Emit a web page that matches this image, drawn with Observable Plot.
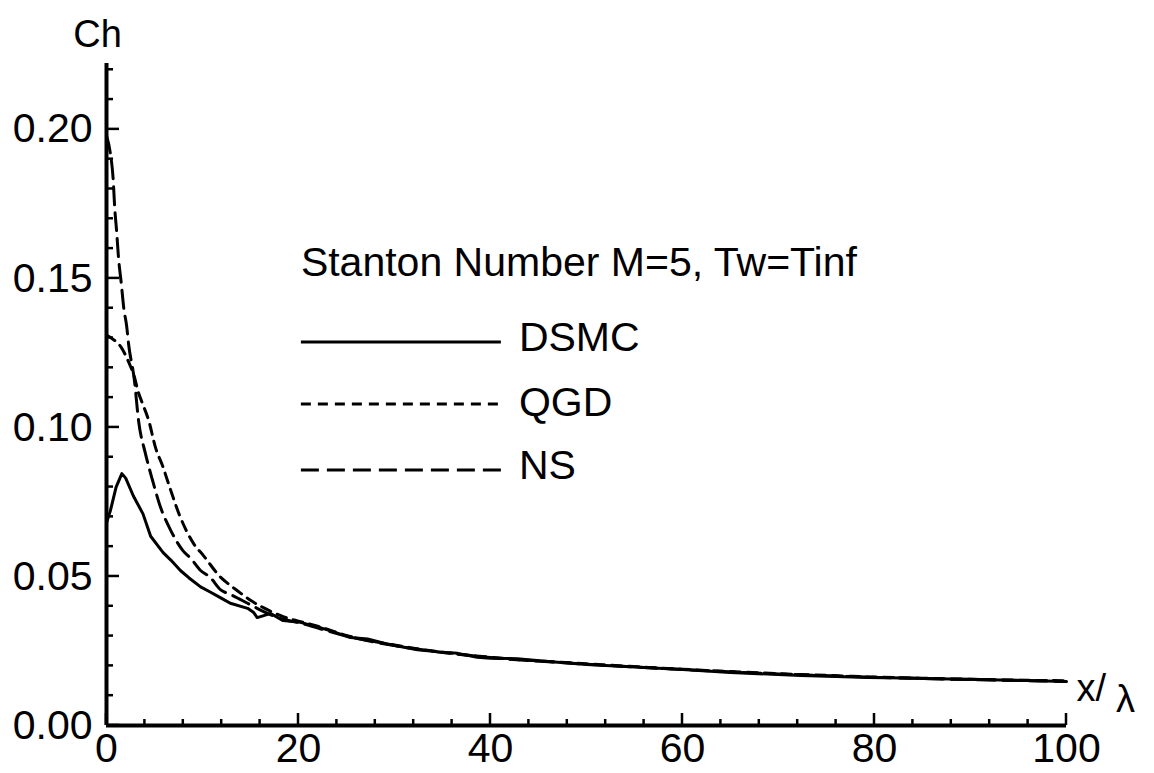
<!DOCTYPE html>
<html><head><meta charset="utf-8">
<script src="https://cdn.jsdelivr.net/npm/d3@7"></script>
<script src="https://cdn.jsdelivr.net/npm/@observablehq/plot@0.6"></script>
<style>
html,body{margin:0;padding:0;background:#fff;}
#chart{width:1154px;height:773px;}
</style></head><body><div id="chart"></div>
<script>
// ---- data ----
const dsmcX = [0,0.4,1.0,1.6,2.0,2.8,3.8,4.6,5.9,6.7,7.7,8.6,9.8,10.8,11.9,12.9,14.7,15.3,15.7,16.3,17.1,18.4,20.2,22,23.6,25.4,27.2,28.9,30.3,32.4,34.5,36.6,38.6,40,42.8,46,50,55,60,65,70,72.3,76,79.3,83,86.1,90,93,96,99.7];
const dsmcY = [0.068,0.072,0.080,0.0845,0.083,0.077,0.071,0.0635,0.058,0.0555,0.052,0.0495,0.0465,0.0448,0.0428,0.041,0.0393,0.038,0.0362,0.0368,0.0376,0.0352,0.0346,0.0331,0.0315,0.0295,0.029,0.0276,0.0267,0.0254,0.0247,0.0242,0.0229,0.0226,0.0224,0.0215,0.0205,0.0196,0.0188,0.0178,0.0171,0.0168,0.0164,0.0161,0.0159,0.0157,0.0155,0.0153,0.0151,0.0148];

const qgdX = [0,0.5,1.5,2.3,2.9,3.3,3.75,4.4,5.1,5.9,6.35,7.7,9.06,10.1,11.9,12.9,13.6,15,16.8,18.4,20,22,25,30,35,40,50,60,70,80,90,100];
const qgdY = [0.131,0.130,0.127,0.122,0.117,0.112,0.108,0.1023,0.0933,0.0866,0.0822,0.0698,0.0611,0.057,0.0497,0.047,0.0453,0.042,0.0388,0.0365,0.035,0.0333,0.0302,0.027,0.0246,0.0229,0.0207,0.0189,0.0174,0.0163,0.0155,0.015];

const nsX = [0,0.4,0.7,0.85,1.05,1.25,1.55,1.8,2.1,2.3,2.9,3.35,4.05,4.8,5.6,6.7,8.0,8.8,9.8,10.8,11.9,12.9,14.7,16,18,20,25,30,35,40,50,60,70,80,90,100];
const nsY = [0.198,0.192,0.183,0.174,0.166,0.157,0.148,0.140,0.134,0.128,0.116,0.102,0.0913,0.0822,0.0735,0.0654,0.0585,0.056,0.052,0.0497,0.0455,0.044,0.041,0.0388,0.036,0.0345,0.03,0.0268,0.0245,0.0228,0.0206,0.0188,0.0173,0.0162,0.0154,0.0148];

const seriesNames = ["DSMC", "QGD", "NS"];
const legendTitle = "Stanton Number M=5, Tw=Tinf";
const yMajorTicks = [0, 0.05, 0.10, 0.15, 0.20];
const yTickLabels = ["0.00", "0.05", "0.10", "0.15", "0.20"];
const yMinorTicks = [0.01,0.02,0.03,0.04,0.06,0.07,0.08,0.09,0.11,0.12,0.13,0.14,0.16,0.17,0.18,0.19,0.21,0.22];
const xMajorTicks = [0, 20, 40, 60, 80, 100];
const xTickLabels = ["0", "20", "40", "60", "80", "100"];
const xMinorTicks = [4,8,12,16,24,28,32,36,44,48,52,56,64,68,72,76,84,88,92,96];
const yLabel = "Ch";
const xLabelMain = "x/";
const xLabelGreek = "λ";

// ---- build tables ----
const toRows = (xs, ys) => xs.map((x, i) => ({x, y: ys[i]}));
const dsmcRows = toRows(dsmcX, dsmcY);
const qgdRows = toRows(qgdX, qgdY);
const nsRows = toRows(nsX, nsY);
const dashes = {DSMC: null, QGD: "10,7", NS: "18,8"};
const FONT = "'Liberation Sans', Arial, Helvetica, sans-serif";

// inward tick marks drawn through the plot's scales
function inwardTicks(index, scales) {
  const g = d3.create("svg:g").attr("stroke", "black").attr("stroke-width", 2.5);
  const x0 = scales.x(0), y0 = scales.y(0);
  const yt = (vals, len) => vals.forEach(v => g.append("line")
    .attr("x1", x0).attr("x2", x0 + len).attr("y1", scales.y(v)).attr("y2", scales.y(v)));
  const xt = (vals, len) => vals.forEach(v => g.append("line")
    .attr("x1", scales.x(v)).attr("x2", scales.x(v)).attr("y1", y0).attr("y2", y0 - len));
  yt(yMajorTicks, 13); yt(yMinorTicks, 7);
  xt(xMajorTicks, 12); xt(xMinorTicks, 6);
  return g.node();
}

// in-plot legend
function legend(index, scales) {
  const g = d3.create("svg:g").attr("font-family", FONT).attr("text-anchor", "start");
  const left = scales.x(20.3);
  g.append("text").attr("x", left).attr("y", 276).attr("font-size", 41).attr("fill", "black")
    .attr("text-anchor", "start").text(legendTitle);
  const lineYs = [342, 404, 470];
  seriesNames.forEach((name, i) => {
    const yy = lineYs[i];
    g.append("line").attr("x1", left).attr("x2", left + 200).attr("y1", yy).attr("y2", yy)
      .attr("stroke", "black").attr("stroke-width", 3)
      .attr("stroke-dasharray", dashes[name]);
    g.append("text").attr("x", left + 218).attr("y", yy + 9 + (i === 1 ? 3 : 0)).attr("font-size", 41)
      .attr("fill", "black").attr("text-anchor", "start").text(name);
  });
  return g.node();
}

const chart = Plot.plot({
  width: 1154,
  height: 773,
  marginLeft: 106,
  marginRight: 88,
  marginTop: 63,
  marginBottom: 48,
  style: {background: "white", fontFamily: FONT, overflow: "visible", color: "black"},
  x: {domain: [0, 100], label: null},
  y: {domain: [0, 0.2221], label: null},
  marks: [
    Plot.axisY({ticks: yMajorTicks, tickSize: 0, tickPadding: 14, fontSize: 41, label: null,
      tickFormat: d => yTickLabels[yMajorTicks.indexOf(d)]}),
    Plot.axisX({ticks: xMajorTicks, tickSize: 0, tickPadding: 7, fontSize: 41, label: null,
      tickFormat: d => xTickLabels[xMajorTicks.indexOf(d)]}),
    Plot.ruleX([0], {strokeWidth: 4}),
    Plot.ruleY([0], {strokeWidth: 4}),
    inwardTicks,
    Plot.line(nsRows, {x: "x", y: "y", stroke: "black", strokeWidth: 3, strokeDasharray: dashes.NS, curve: "monotone-x"}),
    Plot.line(qgdRows, {x: "x", y: "y", stroke: "black", strokeWidth: 3, strokeDasharray: dashes.QGD, curve: "monotone-x"}),
    Plot.line(dsmcRows, {x: "x", y: "y", stroke: "black", strokeWidth: 3}),
    Plot.text([yLabel], {text: d => d, frameAnchor: "top-left", dx: -9, dy: -29, fontSize: 38, textAnchor: "middle", lineAnchor: "middle", fill: "black"}),
    Plot.text([xLabelMain], {text: d => d, frameAnchor: "bottom-right", dx: 10, dy: -37, fontSize: 38, textAnchor: "start", lineAnchor: "middle", fill: "black"}),
    Plot.text([xLabelGreek], {text: d => d, frameAnchor: "bottom-right", dx: 59, dy: -26, fontSize: 38, textAnchor: "middle", lineAnchor: "middle", fill: "black"}),
    legend
  ]
});
document.getElementById("chart").appendChild(chart);
</script>
</body></html>
